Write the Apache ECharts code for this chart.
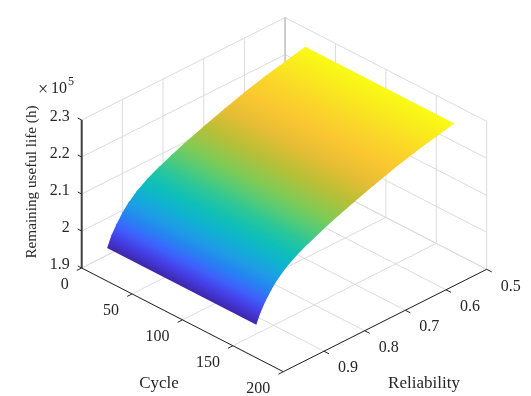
<!DOCTYPE html>
<html>
<head>
<meta charset="utf-8">
<style>
  html, body { margin: 0; padding: 0; background: #fff; }
  #main { width: 531px; height: 396px; }
</style>
</head>
<body>
<div id="main"></div>
<script src="https://cdn.jsdelivr.net/npm/echarts@6/dist/echarts.min.js"></script>
<script>
const reliability = [0.5, 0.55, 0.6, 0.65, 0.7, 0.75, 0.8, 0.83, 0.86, 0.89, 0.915, 0.935, 0.95, 0.965, 0.977, 0.987];
const life = [2.249, 2.237, 2.224, 2.209, 2.191, 2.172, 2.152, 2.138, 2.123, 2.106, 2.088, 2.068, 2.049, 2.025, 2.002, 1.975];
const cycleRange = [20, 168];

const cycleTicks = [0, 50, 100, 150, 200];
const reliabilityTicks = [0.5, 0.6, 0.7, 0.8, 0.9];
const extraReliabilityGrid = [1];
const lifeTicks = [1.9, 2, 2.1, 2.2, 2.3];
const lifeTickLabels = ["1.9", "2", "2.1", "2.2", "2.3"];

// parula colormap stops
const parula = [
  [62, 38, 168], [70, 60, 230], [60, 100, 252], [35, 135, 240], [28, 165, 225],
  [5, 188, 195], [45, 200, 150], [120, 205, 90], [190, 190, 50], [250, 188, 55], [250, 215, 40], [249, 251, 21]
];

function lifeColor(z) {
  const t = (z - life[life.length - 1]) / (life[0] - life[life.length - 1]);
  const p = Math.min(0.9999, Math.max(0, t)) * (parula.length - 1);
  const i = Math.floor(p), f = p - i;
  const c = parula[i].map((v, k) => Math.round(v + (parula[i + 1][k] - v) * f));
  return "rgb(" + c.join(",") + ")";
}

// orthographic view of the 3d box onto the flat helper axes
function project(c, r, z) {
  return [
    81.7 + c * 1.008 + (1 - r) * 406.8,
    268 + c * 0.5185 - (1 - r) * 204.8 - (z - 1.9) * 370,
  ];
}

const lineData = [];
function addLine(a, b, color, width) {
  lineData.push({ value: [...a, ...b], color, width });
}
const gridColor = "#dcdcdc";
const z0 = lifeTicks[0], z1 = lifeTicks[4];
// floor + walls
cycleTicks.forEach((c) => {
  addLine(project(c, 1, z0), project(c, 0.5, z0), gridColor, 1);
  addLine(project(c, 0.5, z0), project(c, 0.5, z1), gridColor, 1);
});
reliabilityTicks.concat(extraReliabilityGrid).forEach((r) => {
  addLine(project(0, r, z0), project(200, r, z0), gridColor, 1);
  addLine(project(0, r, z0), project(0, r, z1), gridColor, 1);
});
lifeTicks.forEach((z) => {
  addLine(project(0, 1, z), project(0, 0.5, z), gridColor, 1);
  addLine(project(0, 0.5, z), project(200, 0.5, z), gridColor, 1);
});
addLine(project(0, 0.5, z0), project(0, 0.5, z1), "#b8b8b8", 1);
// visible axes
const axisColor = "#262626";
addLine(project(0, 1, z0), project(200, 1, z0), axisColor, 1);
addLine(project(200, 1, z0), project(200, 0.5, z0), axisColor, 1);
addLine(project(0, 1, z0), project(0, 1, z1), "#404040", 2);
// tick marks point outwards here
cycleTicks.forEach((c) => addLine(project(c, 1, z0), project(c, 1.012, z0), axisColor, 1));
reliabilityTicks.forEach((r) => addLine(project(200, r, z0), project(205, r, z0), axisColor, 1));
lifeTicks.forEach((z) => addLine(project(0, 1, z), project(-4, 1, z), axisColor, 1));

const stripData = [];
for (let i = 0; i < reliability.length - 1; i++) stripData.push([i]);

const textData = [];
function addText(text, pos, dx, dy, align, size, rotate) {
  textData.push({ value: [pos[0], pos[1]], text, dx, dy, align, size: size || 16, rotate: rotate || 0 });
}
lifeTicks.forEach((z, i) => addText(lifeTickLabels[i], project(0, 1, z), -12, -3, "right"));
cycleTicks.forEach((c) => addText(String(c), project(c, 1, z0), -13, 17, "right"));
reliabilityTicks.forEach((r) => addText(r.toFixed(1), project(200, r, z0), 14, 17, "left"));
addText("Cycle", [159, 384], 0, 0, "center", 17);
addText("Reliability", [424, 384], 0, 0, "center", 17);
addText("Remaining useful life (h)", [32, 182], 0, 0, "center", 15.2, Math.PI / 2);
addText("×", [38, 90], 0, 0, "left", 18);
addText("10", [51, 89], 0, 0, "left");
addText("5", [68, 82], 0, 0, "left", 12);

const chart = echarts.init(document.getElementById("main"));
chart.setOption({
  animation: false,
  backgroundColor: "#fff",
  grid: { left: 0, right: 0, top: 0, bottom: 0 },
  xAxis: { type: "value", min: 0, max: 531, show: false },
  yAxis: { type: "value", min: 0, max: 396, inverse: true, show: false },
  series: [
    {
      type: "custom",
      data: lineData,
      encode: { x: [0, 2], y: [1, 3] },
      z: 1,
      silent: true,
      renderItem(params, api) {
        const d = lineData[params.dataIndex];
        const a = api.coord([d.value[0], d.value[1]]);
        const b = api.coord([d.value[2], d.value[3]]);
        return {
          type: "line",
          shape: { x1: a[0], y1: a[1], x2: b[0], y2: b[1] },
          style: { stroke: d.color, lineWidth: d.width, fill: null },
        };
      },
    },
    {
      type: "custom",
      data: stripData,
      z: 2,
      silent: true,
      renderItem(params, api) {
        const i = params.dataIndex;
        const corner = (c, k) => api.coord(project(c, reliability[k], life[k]));
        const p0 = corner(cycleRange[0], i);
        const p1 = corner(cycleRange[1], i);
        const p2 = corner(cycleRange[1], i + 1);
        const p3 = corner(cycleRange[0], i + 1);
        // gradient has to run square to the cycle direction or the strips show
        const ex = p1[0] - p0[0], ey = p1[1] - p0[1];
        const len = Math.hypot(ex, ey);
        const nx = -ey / len, ny = ex / len;
        const h = (p3[0] - p0[0]) * nx + (p3[1] - p0[1]) * ny;
        const cA = lifeColor(life[i]), cB = lifeColor(life[i + 1]);
        // later strips cover the seam of the one behind, pull the back edge in along the surface
        const back = i === 0 ? 0 : 1.5;
        const sx = (p0[0] - p3[0]) / Math.hypot(p0[0] - p3[0], p0[1] - p3[1]) * back;
        const sy = (p0[1] - p3[1]) / Math.hypot(p0[0] - p3[0], p0[1] - p3[1]) * back;
        return {
          type: "polygon",
          shape: { points: [[p0[0] + sx, p0[1] + sy], [p1[0] + sx, p1[1] + sy], p2, p3] },
          style: {
            fill: new echarts.graphic.LinearGradient(p0[0], p0[1], p0[0] + nx * h, p0[1] + ny * h, [
              { offset: 0, color: cA },
              { offset: 1, color: cB },
            ], true),
          },
        };
      },
    },
    {
      type: "custom",
      data: textData,
      z: 3,
      silent: true,
      renderItem(params, api) {
        const d = textData[params.dataIndex];
        const p = api.coord(d.value);
        return {
          type: "text",
          x: p[0] + d.dx,
          y: p[1] + d.dy,
          rotation: d.rotate,
          style: {
            text: d.text,
            fill: "#262626",
            font: d.size + 'px "Liberation Serif"',
            textAlign: d.align,
            textVerticalAlign: "middle",
          },
        };
      },
    },
  ],
});
</script>
</body>
</html>
